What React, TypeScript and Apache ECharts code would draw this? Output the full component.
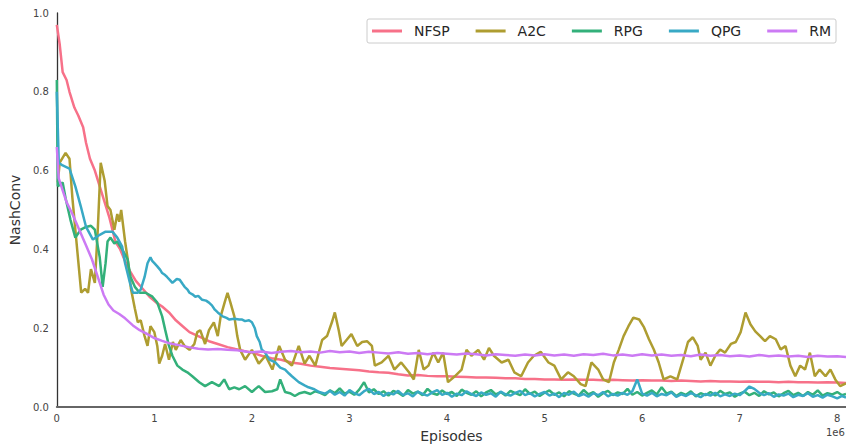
import React, { useEffect, useRef } from "react";
import * as echarts from "echarts";

const seriesNames = ["NFSP", "A2C", "RPG", "QPG", "RM"];
const colors = ["#f77189", "#ae9d31", "#33b07a", "#38a9c5", "#cc7af4"];
const xTicks = [0, 1, 2, 3, 4, 5, 6, 7, 8];
const yTicks = [0, 0.2, 0.4, 0.6, 0.8, 1.0];

const nfspX = [0, 0.03, 0.06, 0.1, 0.13, 0.18, 0.22, 0.27, 0.3, 0.34, 0.39, 0.44, 0.49, 0.54, 0.6, 0.65, 0.7, 0.75, 0.81, 0.88, 0.95, 1.02, 1.08, 1.15, 1.22, 1.29, 1.36, 1.45, 1.56, 1.65, 1.75, 1.83, 1.92, 2.0, 2.1, 2.2, 2.3, 2.4, 2.5, 2.6, 2.7, 2.8, 2.9, 3.0, 3.1, 3.2, 3.3, 3.4, 3.5, 3.6, 3.7, 3.8, 3.9, 4.0, 4.1, 4.2, 4.3, 4.4, 4.5, 4.6, 4.7, 4.8, 4.9, 5.0, 5.1, 5.2, 5.3, 5.4, 5.5, 5.6, 5.7, 5.8, 5.9, 6.0, 6.1, 6.2, 6.3, 6.4, 6.5, 6.6, 6.7, 6.8, 6.9, 7.0, 7.1, 7.2, 7.3, 7.4, 7.5, 7.6, 7.7, 7.8, 7.9, 8.0, 8.09];
const nfspY = [0.97, 0.92, 0.85, 0.83, 0.8, 0.76, 0.74, 0.71, 0.67, 0.63, 0.6, 0.56, 0.52, 0.48, 0.42, 0.4, 0.37, 0.345, 0.32, 0.3, 0.28, 0.265, 0.255, 0.24, 0.22, 0.205, 0.19, 0.18, 0.167, 0.16, 0.152, 0.147, 0.142, 0.138, 0.13, 0.124, 0.12, 0.113, 0.11, 0.105, 0.102, 0.099, 0.097, 0.095, 0.093, 0.09, 0.088, 0.087, 0.083, 0.08, 0.081, 0.079, 0.078, 0.078, 0.077, 0.076, 0.075, 0.075, 0.074, 0.073, 0.073, 0.071, 0.071, 0.07, 0.07, 0.069, 0.07, 0.069, 0.069, 0.068, 0.069, 0.068, 0.067, 0.068, 0.067, 0.067, 0.066, 0.067, 0.066, 0.065, 0.066, 0.065, 0.065, 0.064, 0.065, 0.064, 0.064, 0.063, 0.064, 0.063, 0.063, 0.062, 0.063, 0.062, 0.061];

const a2cX = [0.01, 0.03, 0.09, 0.13, 0.16, 0.22, 0.25, 0.29, 0.32, 0.35, 0.39, 0.42, 0.45, 0.49, 0.52, 0.55, 0.59, 0.62, 0.64, 0.66, 0.7, 0.73, 0.76, 0.8, 0.83, 0.86, 0.9, 0.93, 0.96, 1.0, 1.03, 1.05, 1.08, 1.11, 1.15, 1.19, 1.22, 1.27, 1.31, 1.36, 1.41, 1.44, 1.47, 1.52, 1.56, 1.61, 1.65, 1.68, 1.72, 1.75, 1.78, 1.82, 1.85, 1.88, 1.93, 2.0, 2.07, 2.14, 2.21, 2.28, 2.34, 2.41, 2.48, 2.54, 2.59, 2.65, 2.72, 2.77, 2.82, 2.85, 2.89, 2.92, 2.97, 3.02, 3.08, 3.13, 3.18, 3.23, 3.26, 3.33, 3.4, 3.46, 3.53, 3.61, 3.66, 3.71, 3.76, 3.81, 3.86, 3.91, 3.96, 4.01, 4.08, 4.15, 4.2, 4.25, 4.32, 4.38, 4.43, 4.48, 4.56, 4.63, 4.69, 4.76, 4.83, 4.89, 4.96, 5.04, 5.1, 5.17, 5.24, 5.3, 5.37, 5.42, 5.48, 5.55, 5.6, 5.66, 5.71, 5.76, 5.81, 5.86, 5.91, 5.97, 6.02, 6.07, 6.12, 6.17, 6.22, 6.29, 6.36, 6.42, 6.47, 6.52, 6.57, 6.6, 6.65, 6.7, 6.75, 6.8, 6.85, 6.91, 6.96, 7.01, 7.06, 7.11, 7.16, 7.21, 7.26, 7.31, 7.37, 7.42, 7.47, 7.52, 7.57, 7.62, 7.67, 7.72, 7.77, 7.82, 7.88, 7.93, 7.98, 8.03, 8.09];
const a2cY = [0.57, 0.62, 0.645, 0.63, 0.53, 0.37, 0.29, 0.3, 0.29, 0.35, 0.315, 0.45, 0.62, 0.575, 0.51, 0.5, 0.45, 0.49, 0.47, 0.5, 0.42, 0.37, 0.3, 0.25, 0.215, 0.22, 0.18, 0.155, 0.205, 0.19, 0.155, 0.11, 0.13, 0.16, 0.12, 0.165, 0.145, 0.17, 0.155, 0.145, 0.16, 0.19, 0.195, 0.16, 0.195, 0.215, 0.18, 0.23, 0.265, 0.29, 0.265, 0.23, 0.18, 0.145, 0.12, 0.145, 0.11, 0.13, 0.095, 0.155, 0.12, 0.105, 0.155, 0.11, 0.13, 0.105, 0.17, 0.18, 0.215, 0.24, 0.195, 0.155, 0.17, 0.185, 0.155, 0.165, 0.167, 0.155, 0.105, 0.113, 0.13, 0.095, 0.113, 0.088, 0.07, 0.145, 0.095, 0.105, 0.138, 0.113, 0.138, 0.063, 0.078, 0.095, 0.145, 0.13, 0.145, 0.12, 0.15, 0.13, 0.113, 0.12, 0.088, 0.078, 0.113, 0.13, 0.14, 0.113, 0.105, 0.07, 0.088, 0.078, 0.058, 0.053, 0.113, 0.095, 0.07, 0.063, 0.113, 0.145, 0.18, 0.205, 0.227, 0.222, 0.202, 0.172, 0.146, 0.113, 0.07, 0.078, 0.07, 0.12, 0.165, 0.177, 0.155, 0.12, 0.138, 0.105, 0.13, 0.146, 0.138, 0.16, 0.165, 0.19, 0.24, 0.21, 0.192, 0.18, 0.167, 0.18, 0.172, 0.146, 0.155, 0.105, 0.078, 0.105, 0.095, 0.138, 0.078, 0.095, 0.078, 0.095, 0.07, 0.053, 0.06];

const rpgX = [0, 0.01, 0.06, 0.09, 0.14, 0.19, 0.245, 0.3, 0.35, 0.39, 0.44, 0.47, 0.5, 0.52, 0.55, 0.59, 0.62, 0.67, 0.725, 0.756, 0.8, 0.85, 0.91, 0.98, 1.03, 1.08, 1.11, 1.15, 1.185, 1.236, 1.287, 1.338, 1.389, 1.46, 1.52, 1.59, 1.665, 1.716, 1.767, 1.82, 1.87, 1.93, 2.0, 2.07, 2.135, 2.206, 2.26, 2.29, 2.34, 2.39, 2.44, 2.49, 2.54, 2.6, 2.65, 2.7, 2.75, 2.8, 2.85, 2.9, 2.95, 3.0, 3.05, 3.1, 3.15, 3.2, 3.25, 3.3, 3.35, 3.4, 3.45, 3.5, 3.55, 3.6, 3.65, 3.7, 3.75, 3.8, 3.85, 3.9, 3.95, 4.0, 4.05, 4.1, 4.15, 4.2, 4.25, 4.3, 4.35, 4.4, 4.45, 4.5, 4.55, 4.6, 4.65, 4.7, 4.75, 4.8, 4.85, 4.9, 4.95, 5.0, 5.05, 5.1, 5.15, 5.2, 5.25, 5.3, 5.35, 5.4, 5.45, 5.5, 5.55, 5.6, 5.65, 5.7, 5.75, 5.8, 5.85, 5.9, 5.95, 6.0, 6.05, 6.1, 6.15, 6.2, 6.25, 6.3, 6.35, 6.4, 6.45, 6.5, 6.55, 6.6, 6.65, 6.7, 6.75, 6.8, 6.85, 6.9, 6.95, 7.0, 7.05, 7.1, 7.15, 7.2, 7.25, 7.3, 7.35, 7.4, 7.45, 7.5, 7.55, 7.6, 7.65, 7.7, 7.75, 7.8, 7.85, 7.9, 7.95, 8.0, 8.05, 8.09];
const rpgY = [0.83, 0.56, 0.57, 0.53, 0.475, 0.43, 0.45, 0.457, 0.46, 0.45, 0.38, 0.305, 0.365, 0.42, 0.43, 0.415, 0.42, 0.4, 0.375, 0.33, 0.305, 0.29, 0.29, 0.28, 0.265, 0.23, 0.197, 0.155, 0.13, 0.105, 0.095, 0.088, 0.078, 0.063, 0.053, 0.063, 0.053, 0.07, 0.045, 0.05, 0.045, 0.053, 0.038, 0.053, 0.038, 0.04, 0.045, 0.07, 0.038, 0.035, 0.028, 0.035, 0.038, 0.033, 0.04, 0.036, 0.03, 0.042, 0.035, 0.047, 0.034, 0.039, 0.031, 0.044, 0.063, 0.037, 0.045, 0.033, 0.04, 0.029, 0.041, 0.036, 0.028, 0.043, 0.034, 0.039, 0.03, 0.046, 0.035, 0.031, 0.042, 0.033, 0.038, 0.028, 0.044, 0.036, 0.031, 0.04, 0.027, 0.037, 0.043, 0.032, 0.038, 0.029, 0.041, 0.035, 0.03, 0.045, 0.033, 0.039, 0.028, 0.036, 0.042, 0.031, 0.037, 0.027, 0.04, 0.034, 0.029, 0.043, 0.032, 0.038, 0.026, 0.035, 0.041, 0.03, 0.037, 0.033, 0.046, 0.031, 0.038, 0.029, 0.036, 0.042, 0.032, 0.05, 0.034, 0.039, 0.028, 0.036, 0.031, 0.04, 0.027, 0.035, 0.03, 0.038, 0.029, 0.041, 0.033, 0.037, 0.026, 0.034, 0.039, 0.03, 0.036, 0.028, 0.04, 0.032, 0.037, 0.027, 0.035, 0.041, 0.03, 0.036, 0.028, 0.038, 0.031, 0.042, 0.029, 0.035, 0.032, 0.038, 0.03, 0.033];

const qpgX = [0, 0.02, 0.06, 0.13, 0.19, 0.245, 0.3, 0.37, 0.44, 0.5, 0.57, 0.62, 0.67, 0.7, 0.75, 0.78, 0.83, 0.86, 0.9, 0.93, 0.96, 0.98, 1.0, 1.03, 1.06, 1.08, 1.11, 1.13, 1.16, 1.185, 1.23, 1.26, 1.29, 1.31, 1.34, 1.36, 1.39, 1.42, 1.45, 1.49, 1.53, 1.56, 1.59, 1.62, 1.65, 1.7, 1.74, 1.77, 1.82, 1.87, 1.9, 1.93, 1.97, 2.0, 2.03, 2.05, 2.08, 2.1, 2.135, 2.18, 2.24, 2.29, 2.34, 2.38, 2.41, 2.48, 2.54, 2.58, 2.64, 2.69, 2.75, 2.8, 2.85, 2.9, 2.95, 3.0, 3.05, 3.1, 3.15, 3.2, 3.25, 3.3, 3.35, 3.4, 3.45, 3.5, 3.55, 3.6, 3.65, 3.7, 3.75, 3.8, 3.85, 3.9, 3.95, 4.0, 4.05, 4.1, 4.15, 4.2, 4.25, 4.3, 4.35, 4.4, 4.45, 4.5, 4.55, 4.6, 4.65, 4.7, 4.75, 4.8, 4.85, 4.9, 4.95, 5.0, 5.05, 5.1, 5.15, 5.2, 5.25, 5.3, 5.35, 5.4, 5.45, 5.5, 5.55, 5.6, 5.65, 5.7, 5.75, 5.8, 5.85, 5.9, 5.95, 6.0, 6.05, 6.1, 6.15, 6.2, 6.25, 6.3, 6.35, 6.4, 6.45, 6.5, 6.55, 6.6, 6.65, 6.7, 6.75, 6.8, 6.85, 6.9, 6.95, 7.0, 7.05, 7.1, 7.15, 7.2, 7.25, 7.3, 7.35, 7.4, 7.45, 7.5, 7.55, 7.6, 7.65, 7.7, 7.75, 7.8, 7.85, 7.9, 7.95, 8.0, 8.05, 8.09];
const qpgY = [0.8, 0.62, 0.613, 0.605, 0.56, 0.51, 0.457, 0.425, 0.437, 0.445, 0.445, 0.43, 0.407, 0.365, 0.315, 0.29, 0.29, 0.298, 0.33, 0.365, 0.38, 0.37, 0.365, 0.357, 0.348, 0.34, 0.335, 0.33, 0.322, 0.315, 0.325, 0.323, 0.312, 0.305, 0.298, 0.29, 0.286, 0.28, 0.282, 0.272, 0.27, 0.265, 0.258, 0.247, 0.24, 0.23, 0.226, 0.222, 0.224, 0.222, 0.222, 0.218, 0.22, 0.215, 0.2, 0.18, 0.165, 0.146, 0.138, 0.12, 0.113, 0.1, 0.095, 0.085, 0.078, 0.063, 0.055, 0.05, 0.045, 0.038, 0.034, 0.041, 0.031, 0.038, 0.029, 0.043, 0.035, 0.03, 0.04, 0.046, 0.033, 0.038, 0.028, 0.036, 0.032, 0.041, 0.03, 0.035, 0.027, 0.039, 0.033, 0.029, 0.037, 0.043, 0.031, 0.036, 0.026, 0.034, 0.03, 0.04, 0.033, 0.028, 0.037, 0.031, 0.035, 0.026, 0.039, 0.032, 0.029, 0.036, 0.041, 0.03, 0.035, 0.027, 0.033, 0.038, 0.029, 0.034, 0.025, 0.036, 0.031, 0.039, 0.028, 0.033, 0.026, 0.035, 0.03, 0.038, 0.027, 0.033, 0.029, 0.036, 0.031, 0.04, 0.07, 0.034, 0.029, 0.036, 0.027, 0.033, 0.03, 0.037, 0.026, 0.032, 0.028, 0.035, 0.03, 0.025, 0.033, 0.029, 0.036, 0.027, 0.032, 0.028, 0.034, 0.03, 0.04, 0.052, 0.046, 0.036, 0.03, 0.035, 0.026, 0.032, 0.029, 0.034, 0.025, 0.031, 0.028, 0.035, 0.026, 0.03, 0.024, 0.031, 0.027, 0.022, 0.028, 0.024];

const rmX = [0, 0.02, 0.06, 0.1, 0.16, 0.23, 0.3, 0.36, 0.42, 0.48, 0.53, 0.58, 0.64, 0.7, 0.78, 0.85, 0.92, 1.0, 1.08, 1.15, 1.25, 1.35, 1.45, 1.55, 1.65, 1.75, 1.85, 1.95, 2.0, 2.1, 2.2, 2.3, 2.4, 2.5, 2.6, 2.7, 2.8, 2.9, 3.0, 3.1, 3.2, 3.3, 3.4, 3.5, 3.6, 3.7, 3.8, 3.9, 4.0, 4.1, 4.2, 4.3, 4.4, 4.5, 4.6, 4.7, 4.8, 4.9, 5.0, 5.1, 5.2, 5.3, 5.4, 5.5, 5.6, 5.7, 5.8, 5.9, 6.0, 6.1, 6.2, 6.3, 6.4, 6.5, 6.6, 6.7, 6.8, 6.9, 7.0, 7.1, 7.2, 7.3, 7.4, 7.5, 7.6, 7.7, 7.8, 7.9, 8.0, 8.09];
const rmY = [0.66, 0.58, 0.55, 0.52, 0.49, 0.45, 0.41, 0.375, 0.33, 0.285, 0.26, 0.245, 0.236, 0.225, 0.207, 0.195, 0.186, 0.175, 0.168, 0.162, 0.157, 0.152, 0.148, 0.146, 0.147, 0.145, 0.144, 0.14, 0.139, 0.141, 0.137, 0.14, 0.142, 0.139, 0.141, 0.138, 0.142, 0.139, 0.141, 0.137, 0.14, 0.138, 0.136, 0.139, 0.135, 0.137, 0.134, 0.137, 0.135, 0.133, 0.136, 0.134, 0.131, 0.134, 0.132, 0.13, 0.133, 0.131, 0.134, 0.131, 0.133, 0.13, 0.134, 0.132, 0.135, 0.131, 0.133, 0.13, 0.134, 0.131, 0.133, 0.13, 0.132, 0.129, 0.133, 0.13, 0.132, 0.129, 0.131, 0.128, 0.132, 0.129, 0.131, 0.128, 0.13, 0.127, 0.13, 0.128, 0.129, 0.127];

const seriesX = [nfspX, a2cX, rpgX, qpgX, rmX];
const seriesY = [nfspY, a2cY, rpgY, qpgY, rmY];

const FONT = "DejaVu Sans";

export default function App() {
  const ref = useRef<HTMLDivElement>(null);
  useEffect(() => {
    if (!ref.current) return;
    const chart = echarts.init(ref.current, null, { renderer: "svg" });
    chart.setOption({
      animation: false,
      backgroundColor: "#ffffff",
      textStyle: { fontFamily: FONT },
      grid: { left: 54, right: 0, top: 13, bottom: 40, containLabel: false },
      legend: {
        data: seriesNames,
        left: 367,
        top: 19,
        width: 478,
        icon: "rect",
        itemWidth: 30,
        itemHeight: 3,
        itemGap: 26,
        padding: [5, 5, 5, 5],
        borderColor: "#cccccc",
        borderWidth: 1,
        borderRadius: 2,
        backgroundColor: "#ffffff",
        textStyle: { fontFamily: FONT, fontSize: 14, color: "#262626", padding: [0, 0, 0, 7] },
      },
      xAxis: {
        type: "value",
        min: xTicks[0],
        max: 8.09,
        interval: 1,
        name: "Episodes",
        nameLocation: "middle",
        nameGap: 22,
        nameTextStyle: { fontFamily: FONT, fontSize: 14, color: "#333333" },
        axisLine: { show: true, lineStyle: { color: "#666666", width: 2 } },
        axisTick: { show: false },
        splitLine: { show: false },
        axisLabel: {
          fontFamily: FONT,
          fontSize: 10,
          color: "#444444",
          margin: 6,
          showMaxLabel: false,
          formatter: (v: number) => (xTicks.includes(v) ? String(v) : ""),
        },
      },
      yAxis: {
        type: "value",
        min: yTicks[0],
        max: yTicks[yTicks.length - 1],
        interval: 0.2,
        name: "NashConv",
        nameLocation: "middle",
        nameGap: 29,
        nameTextStyle: { fontFamily: FONT, fontSize: 14, color: "#333333" },
        axisLine: { show: true, lineStyle: { color: "#333333", width: 1.3 } },
        axisTick: { show: false },
        splitLine: { show: false },
        axisLabel: {
          fontFamily: FONT,
          fontSize: 10,
          color: "#444444",
          margin: 8,
          formatter: (v: number) => v.toFixed(1),
        },
      },
      graphic: [
        {
          type: "text",
          left: 826,
          top: 427,
          style: { text: "1e6", fontFamily: FONT, fontSize: 10, fill: "#444444" },
        },
      ],
      series: seriesNames.map((name, i) => ({
        name,
        type: "line",
        showSymbol: false,
        symbol: "none",
        color: colors[i],
        lineStyle: { width: 2.5, color: colors[i] },
        data: seriesX[i].map((x, j) => [x, seriesY[i][j]]),
      })),
    });
    return () => chart.dispose();
  }, []);
  return (
    <div
      ref={ref}
      style={{ position: "fixed", left: 0, top: 0, width: 846, height: 448, background: "#fff" }}
    />
  );
}
